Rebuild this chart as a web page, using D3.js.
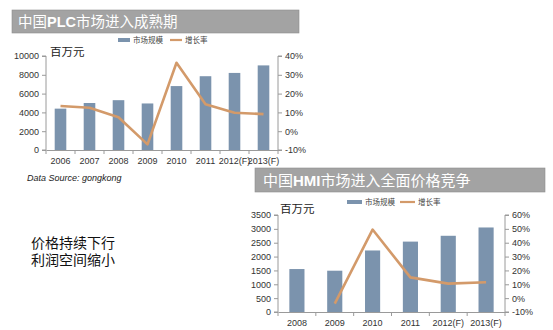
<!DOCTYPE html>
<html>
<head>
<meta charset="utf-8">
<script src="https://cdn.jsdelivr.net/npm/d3@7"></script>
<style>
  html, body { margin: 0; padding: 0; background: #fff; }
  svg { display: block; }
  text { font-family: "Liberation Sans", Arial, "Noto Sans CJK SC", sans-serif; }
</style>
</head>
<body>
<svg id="chart" width="553" height="330"></svg>
<script>
// PLC market (million yuan) and year-on-year growth
const plcYears = ["2006", "2007", "2008", "2009", "2010", "2011", "2012(F)", "2013(F)"];
const plcSize = [4400, 5000, 5300, 4950, 6800, 7850, 8200, 9000];
const plcGrowth = [13.4, 12.5, 7.4, -7, 36.4, 14.3, 9.8, 9.1];
const plcLeftTicks = [0, 2000, 4000, 6000, 8000, 10000];
const plcRightTicks = [-10, 0, 10, 20, 30, 40];

// HMI market (million yuan) and year-on-year growth
const hmiYears = ["2008", "2009", "2010", "2011", "2012(F)", "2013(F)"];
const hmiSize = [1550, 1490, 2220, 2540, 2750, 3050];
const hmiGrowth = [null, -4, 49.5, 15, 10.5, 11.5];
const hmiLeftTicks = [0, 500, 1000, 1500, 2000, 2500, 3000, 3500];
const hmiRightTicks = [-10, 0, 10, 20, 30, 40, 50, 60];

const legendLabels = ["市场规模", "增长率"];
const unitLabel = "百万元";

const BAR = "#7b93ad";
const LINE = "#d39a6a";
const AXIS = "#9a9a9a";
const TITLE_BG = "#a3a3a3";

const svg = d3.select("#chart");

function drawChart(cfg) {
  const g = svg.append("g");

  // title banner
  g.append("rect")
    .attr("x", cfg.title.x).attr("y", cfg.title.y)
    .attr("width", cfg.title.w).attr("height", cfg.title.h)
    .attr("fill", TITLE_BG).attr("stroke", "#8e8e8e").attr("stroke-width", 0.6);
  const tt = g.append("text")
    .attr("x", cfg.title.x + cfg.title.pad)
    .attr("y", cfg.title.y + cfg.title.h / 2 + 5.5)
    .attr("fill", "#fff").attr("font-size", cfg.title.fs);
  cfg.title.parts.forEach(p => {
    tt.append("tspan").text(p.t)
      .attr("font-weight", p.bold ? "bold" : "normal")
      .attr("font-family", p.bold ? "Liberation Sans, Arial, sans-serif" : "Noto Sans CJK SC, sans-serif");
  });

  const x = d3.scaleBand().domain(cfg.cats).range([cfg.x0, cfg.x1]).paddingInner(cfg.pad).paddingOuter(cfg.pad / 2);
  const band = d3.scaleBand().domain(cfg.cats).range([cfg.x0, cfg.x1]);
  const yL = d3.scaleLinear().domain([0, cfg.leftMax]).range([cfg.y1, cfg.y0]);
  const yR = d3.scaleLinear().domain([cfg.rightMin, cfg.rightMax]).range([cfg.y1, cfg.y0]);

  // bars
  g.selectAll("rect.bar").data(cfg.size).enter().append("rect")
    .attr("class", "bar")
    .attr("x", (d, i) => x(cfg.cats[i]))
    .attr("width", x.bandwidth())
    .attr("y", d => yL(d))
    .attr("height", d => yL(0) - yL(d))
    .attr("fill", BAR);

  // growth line
  const pts = cfg.growth.map((v, i) => ({ c: cfg.cats[i], v })).filter(p => p.v !== null);
  g.append("path").datum(pts)
    .attr("fill", "none").attr("stroke", LINE).attr("stroke-width", 2.6)
    .attr("stroke-linejoin", "round")
    .attr("d", d3.line().x(p => band(p.c) + band.bandwidth() / 2).y(p => yR(p.v)));

  // axes
  const axL = g.append("g").attr("transform", `translate(${cfg.x0},0)`)
    .call(d3.axisLeft(yL).tickValues(cfg.leftTicks).tickSize(4).tickPadding(3).tickFormat(d3.format("d")));
  const axR = g.append("g").attr("transform", `translate(${cfg.x1},0)`)
    .call(d3.axisRight(yR).tickValues(cfg.rightTicks).tickSize(4).tickPadding(3).tickFormat(d => d + "%"));
  const axB = g.append("g").attr("transform", `translate(0,${cfg.y1})`)
    .call(d3.axisBottom(band).tickSize(0).tickPadding(cfg.xPad));
  // category separators on the baseline
  g.selectAll("line.sep").data(d3.range(cfg.cats.length + 1)).enter().append("line")
    .attr("x1", i => cfg.x0 + i * band.step()).attr("x2", i => cfg.x0 + i * band.step())
    .attr("y1", cfg.y1).attr("y2", cfg.y1 + 4)
    .attr("stroke", AXIS);

  [axL, axR, axB].forEach(a => {
    a.selectAll(".domain").attr("stroke", AXIS);
    a.selectAll(".tick line").attr("stroke", AXIS);
    a.selectAll("text").attr("fill", "#333").attr("font-size", cfg.fs)
      .attr("font-family", "Liberation Sans, Arial, sans-serif");
  });
  axL.select(".domain").attr("d", `M-4,${cfg.y0}H0V${cfg.y1}H-4`);
  axR.select(".domain").attr("d", `M4,${cfg.y0}H0V${cfg.y1}H4`);

  // unit label
  g.append("text").attr("x", cfg.unit.x).attr("y", cfg.unit.y)
    .attr("font-size", cfg.unit.fs).attr("fill", "#222")
    .attr("font-family", "Noto Sans CJK SC, sans-serif").text(unitLabel);

  // legend
  const lg = g.append("g").attr("font-size", 7.5).attr("fill", "#444")
    .attr("font-family", "Noto Sans CJK SC, sans-serif");
  lg.append("rect").attr("x", cfg.legend.x).attr("y", cfg.legend.y - 2)
    .attr("width", cfg.legend.sw).attr("height", 4).attr("fill", BAR);
  lg.append("text").attr("x", cfg.legend.x + cfg.legend.sw + 3).attr("y", cfg.legend.y + 3).text(legendLabels[0]);
  lg.append("line").attr("x1", cfg.legend.x2).attr("x2", cfg.legend.x2 + cfg.legend.sw)
    .attr("y1", cfg.legend.y).attr("y2", cfg.legend.y)
    .attr("stroke", LINE).attr("stroke-width", 2.2);
  lg.append("text").attr("x", cfg.legend.x2 + cfg.legend.sw + 3).attr("y", cfg.legend.y + 3).text(legendLabels[1]);
}

drawChart({
  title: { x: 12, y: 10, w: 287, h: 23, pad: 6, fs: 14.5,
    parts: [{ t: "中国" }, { t: "PLC", bold: true }, { t: "市场进入成熟期" }] },
  cats: plcYears, size: plcSize, growth: plcGrowth,
  x0: 46, x1: 278, y0: 56, y1: 150, pad: 0.6,
  leftMax: 10000, rightMin: -10, rightMax: 40,
  leftTicks: plcLeftTicks, rightTicks: plcRightTicks,
  fs: 9, xPad: 8,
  unit: { x: 50, y: 56, fs: 11.5 },
  legend: { x: 118, x2: 170, y: 40, sw: 12 }
});

drawChart({
  title: { x: 255, y: 168, w: 290, h: 24, pad: 8, fs: 15,
    parts: [{ t: "中国" }, { t: "HMI", bold: true }, { t: "市场进入全面价格竞争" }] },
  cats: hmiYears, size: hmiSize, growth: hmiGrowth,
  x0: 278, x1: 505, y0: 215, y1: 312, pad: 0.6,
  leftMax: 3500, rightMin: -10, rightMax: 60,
  leftTicks: hmiLeftTicks, rightTicks: hmiRightTicks,
  fs: 9, xPad: 8,
  unit: { x: 280, y: 213, fs: 11.5 },
  legend: { x: 347, x2: 400, y: 202, sw: 15 }
});

// source note
svg.append("text").attr("x", 27).attr("y", 181)
  .attr("font-size", 9).attr("font-style", "italic").attr("fill", "#222")
  .text("Data Source: gongkong");

// side remark
const remark = svg.append("g").attr("font-size", 14).attr("fill", "#111")
  .attr("font-family", "Noto Sans CJK SC, sans-serif");
remark.append("text").attr("x", 31).attr("y", 248).text("价格持续下行");
remark.append("text").attr("x", 31).attr("y", 265).text("利润空间缩小");
</script>
</body>
</html>
